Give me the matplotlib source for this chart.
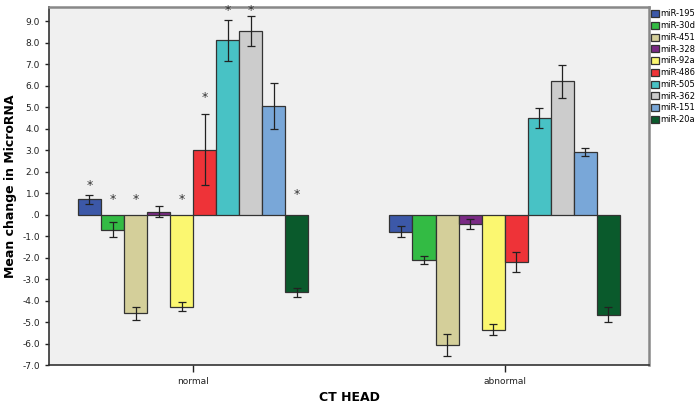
import matplotlib.pyplot as plt
import numpy as np

groups = ["normal", "abnormal"]
mirnas = ["miR-195", "miR-30d", "miR-451", "miR-328", "miR-92a",
          "miR-486", "miR-505", "miR-362", "miR-151", "miR-20a"]
colors = ["#3c58a8", "#33bb44", "#d4cf9a", "#7a2a85", "#fbf770",
          "#ee3338", "#48c2c5", "#cccccc", "#79a7d8", "#0a5a2c"]

# mean change, one list per group (order follows mirnas)
normal_mean = [0.71, -0.70, -4.59, 0.14, -4.28, 3.02, 8.11, 8.56, 5.07, -3.61]
normal_err = [0.21, 0.35, 0.31, 0.25, 0.20, 1.65, 0.96, 0.70, 1.08, 0.22]
abnormal_mean = [-0.79, -2.11, -6.08, -0.43, -5.36, -2.20, 4.50, 6.20, 2.92, -4.65]
abnormal_err = [0.26, 0.18, 0.51, 0.22, 0.25, 0.45, 0.48, 0.77, 0.19, 0.33]

# significance stars (normal group only): bar index, height
star_idx = [0, 1, 2, 4, 5, 6, 7, 9]
star_y = [1.35, 0.71, 0.71, 0.71, 5.44, 9.49, 9.49, 0.96]

fig = plt.figure(figsize=(7, 4.07), dpi=100)
ax = fig.add_axes([0.07, 0.103, 0.857, 0.880])
ax.set_facecolor("#f0f0f0")

width = 0.074
x = np.arange(len(groups))
means = [normal_mean, abnormal_mean]
errs = [normal_err, abnormal_err]
for i, name in enumerate(mirnas):
    pos = x + (i - 4.5) * width
    vals = [m[i] for m in means]
    ee = [e[i] for e in errs]
    ax.bar(pos, vals, width, color=colors[i], edgecolor="#333333",
           linewidth=0.9, label=name, zorder=2)
    ax.errorbar(pos, vals, yerr=ee, fmt="none", ecolor="#222222",
                elinewidth=0.9, capsize=3, capthick=0.9, zorder=3)

for i, y in zip(star_idx, star_y):
    ax.text(x[0] + (i - 4.5) * width, y, "*", ha="center", va="center",
            fontsize=9, color="#333333")

ax.set_xlim(-0.463, 1.463)
ax.set_ylim(-7.0, 9.67)
yt = np.arange(-7, 10)
ax.set_yticks(yt)
ax.set_yticklabels([".0" if v == 0 else "%.1f" % v for v in yt])
ax.set_xticks(x)
ax.set_xticklabels(groups)
ax.tick_params(axis="both", labelsize=6.5, colors="#222222", length=3, width=1)
ax.tick_params(axis="x", length=5)

for s in ["top", "right"]:
    ax.spines[s].set_color("#888888")
    ax.spines[s].set_linewidth(1.8)
for s in ["left", "bottom"]:
    ax.spines[s].set_color("#333333")
    ax.spines[s].set_linewidth(1.2)

ax.set_xlabel("CT HEAD", fontsize=9, fontweight="bold", labelpad=4)
ax.set_ylabel("Mean change in MicroRNA", fontsize=9, fontweight="bold", labelpad=4)

ax.legend(loc="upper left", bbox_to_anchor=(1.0, 1.0), frameon=False,
          fontsize=6, handlelength=0.9, handleheight=0.9, handletextpad=0.2,
          labelspacing=0.33, borderaxespad=0.2, borderpad=0.1)

fig.savefig("out.png", dpi=100)
